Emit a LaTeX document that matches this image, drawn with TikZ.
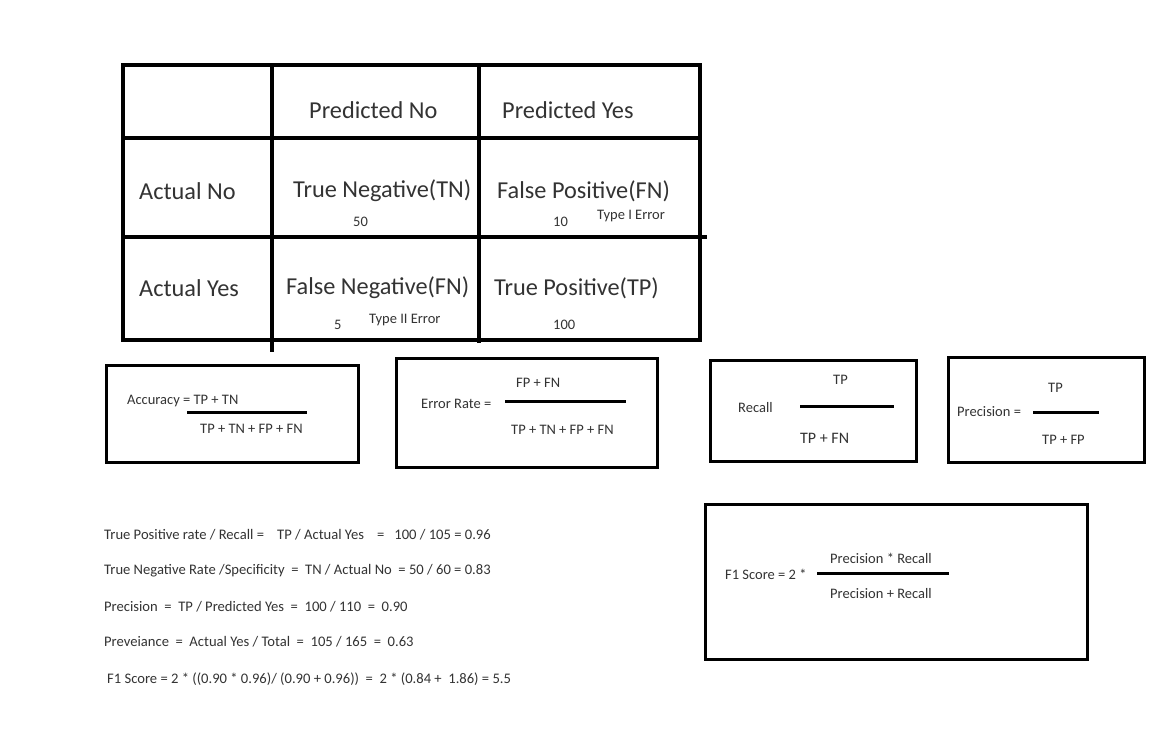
\documentclass[tikz,border=0pt]{standalone}
\usepackage{fontspec}
\setmainfont{Carlito}
\begin{document}
\begin{tikzpicture}[x=1pt,y=-1pt,
  txt/.style={inner sep=0pt,text=black!80,anchor=west},
  big/.style={txt,font=\fontsize{24.3}{27}\selectfont},
  sml/.style={txt,font=\fontsize{14.5}{16}\selectfont},
  mid/.style={txt,font=\fontsize{14.6}{16}\selectfont},
  grid/.style={line width=4pt},
  box/.style={line width=3pt},
  frac/.style={line width=3pt}]
\useasboundingbox (0,0) rectangle (1171,745);
\fill[white] (0,0) rectangle (1171,745);
% table
\draw[grid] (123,65) rectangle (700,340);
\draw[grid] (272,65) -- (272,352);
\draw[grid] (479,65) -- (479,343);
\draw[grid] (123,138) -- (702,138);
\draw[grid] (123,237) -- (707,237);
\node[big] (pn) at (309,110) {Predicted No};
\node[big] (py) at (502,110) {Predicted Yes};
\node[big] (an) at (139,191) {Actual No};
\node[big] (tn) at (293,191) {True Negative(TN)};
\node[big] (fp) at (497,191) {False Positive(FN)};
\node[sml] (n50) at (353,222) {50};
\node[sml] (n10) at (553,222) {10};
\node[sml] (t1) at (597,216) {Type I Error};
\node[big] (ay) at (139,288) {Actual Yes};
\node[big] (fn) at (286,288) {False Negative(FN)};
\node[big] (tp) at (494,288) {True Positive(TP)};
\node[sml] (n5) at (334,325) {5};
\node[sml] (t2) at (369,320) {Type II Error};
\node[sml] (n100) at (553,325) {100};
% accuracy
\draw[box] (106,365) rectangle (358,462);
\node[sml] (acc) at (127,401) {Accuracy = TP + TN};
\draw[frac] (187,412) -- (307,412);
\node[sml] (accd) at (200,429) {TP + TN + FP + FN};
% error rate
\draw[box] (396,358) rectangle (657,467);
\node[sml] (ern) at (516,383) {FP + FN};
\node[sml] (er) at (421,404) {Error Rate =};
\draw[frac] (505,401) -- (626,401);
\node[sml] (erd) at (511,430) {TP + TN + FP + FN};
% recall
\draw[box] (710,360) rectangle (916,461);
\node[sml] (rn) at (833,380) {TP};
\node[sml] (rl) at (738,408) {Recall};
\draw[frac] (800,406) -- (894,406);
\node[txt,font=\fontsize{16}{18}\selectfont] (rd) at (800,438) {TP + FN};
% precision
\draw[box] (948,357) rectangle (1144,462);
\node[sml] (prn) at (1048,388) {TP};
\node[sml] (pr) at (957,412) {Precision =};
\draw[frac] (1033,412) -- (1099,412);
\node[sml] (prd) at (1042,440) {TP + FP};
% F1
\draw[box] (705,504) rectangle (1087,659);
\node[sml] (f1) at (725,574) {F1 Score = 2 *};
\node[sml] (f1n) at (830,558) {Precision * Recall};
\draw[frac] (817,573) -- (949,573);
\node[sml] (f1d) at (830,594) {Precision + Recall};
% bottom lines
\node[mid] (l1) at (104,535) {True Positive rate / Recall =~~~ TP / Actual Yes~~~ =~~ 100 / 105 = 0.96};
\node[mid] (l2) at (104,571) {True Negative Rate /Specificity~ =~ TN / Actual No~ = 50 / 60 = 0.83};
\node[mid] (l3) at (104,607) {Precision~ =~ TP / Predicted Yes~ =~ 100 / 110~ =~ 0.90};
\node[mid] (l4) at (104,642) {Preveiance~ =~ Actual Yes / Total~ =~ 105 / 165~ =~ 0.63};
\node[mid] (l5) at (107,679) {F1 Score = 2 * ((0.90 * 0.96)/ (0.90 + 0.96))~ =~ 2 * (0.84 +~ 1.86) = 5.5};
\end{tikzpicture}
\end{document}
